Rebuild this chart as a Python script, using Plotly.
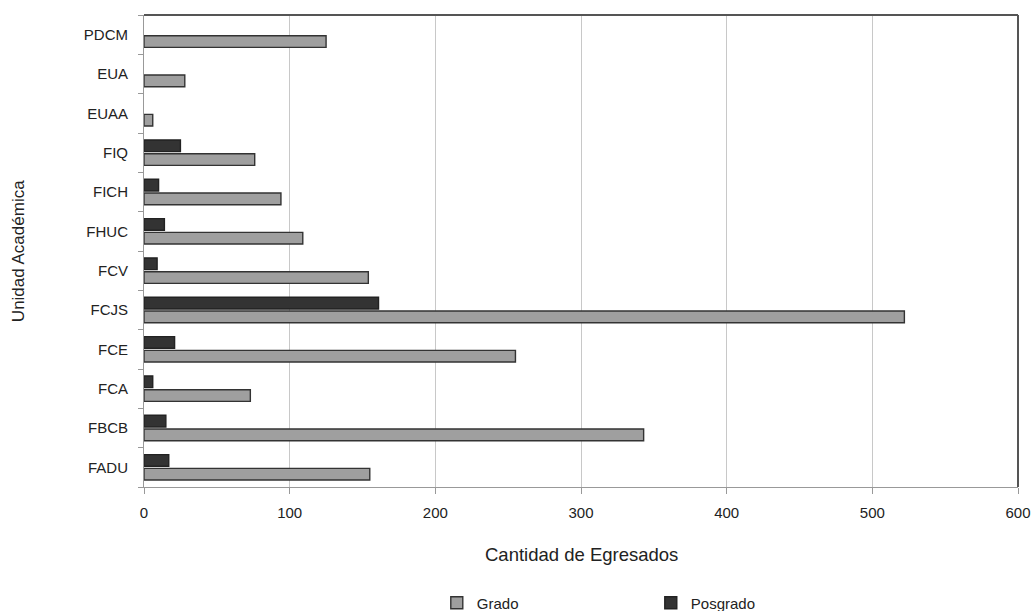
import plotly.graph_objects as go

categories = ["FADU", "FBCB", "FCA", "FCE", "FCJS", "FCV", "FHUC", "FICH", "FIQ", "EUAA", "EUA", "PDCM"]
grado = [155, 343, 73, 255, 522, 154, 109, 94, 76, 6, 28, 125]
posgrado = [17, 15, 6, 21, 161, 9, 14, 10, 25, None, None, None]
x_ticks = [0, 100, 200, 300, 400, 500, 600]

FONT = "Liberation Sans, Arial, sans-serif"

fig = go.Figure()
fig.add_trace(go.Bar(
    name="Grado", y=categories, x=grado, orientation="h",
    marker=dict(color="#9f9f9f", line=dict(color="#333333", width=1.4)),
))
fig.add_trace(go.Bar(
    name="Posgrado", y=categories, x=posgrado, orientation="h",
    marker=dict(color="#333333", line=dict(color="#222222", width=1.4)),
))

fig.update_layout(
    width=1036, height=611,
    margin=dict(l=144, r=18, t=15, b=124, autoexpand=False),
    paper_bgcolor="white", plot_bgcolor="white",
    barmode="group", bargap=0.3, bargroupgap=0.15,
    font=dict(family=FONT, size=15, color="#222222"),
    showlegend=True,
    legend=dict(orientation="h", x=0.335, xanchor="left", y=-0.2458, yanchor="middle",
                traceorder="normal", entrywidth=169, entrywidthmode="pixels",
                font=dict(size=15, color="#222222"), itemwidth=30),
    shapes=[
        dict(type="line", xref="paper", yref="paper", x0=0, x1=1, y0=1, y1=1,
             line=dict(color="#555555", width=2)),
        dict(type="line", xref="paper", yref="paper", x0=1, x1=1, y0=0, y1=1,
             line=dict(color="#555555", width=2)),
    ],
    annotations=[
        dict(text="Cantidad de Egresados", xref="paper", yref="paper", x=0.5, y=-0.144,
             xanchor="center", yanchor="middle", showarrow=False,
             font=dict(size=18.5, color="#222222")),
        dict(text="Unidad Académica", xref="paper", yref="paper", x=-0.144, y=0.5,
             xanchor="center", yanchor="middle", showarrow=False, textangle=-90,
             font=dict(size=17, color="#222222")),
    ],
)
fig.update_xaxes(
    range=[0, 600], tickvals=x_ticks, ticktext=[str(v) for v in x_ticks],
    showgrid=True, gridcolor="#c8c8c8", gridwidth=1,
    showline=True, linecolor="#999999", linewidth=1,
    ticks="outside", ticklen=6, tickcolor="#999999",
    ticklabelstandoff=6,
    zeroline=False,
    automargin=False,
)
fig.update_yaxes(
    categoryorder="array", categoryarray=categories,
    showgrid=False,
    showline=True, linecolor="#999999", linewidth=1,
    ticks="outside", ticklen=5, tickcolor="#999999", tickson="boundaries",
    ticklabelstandoff=12,
    automargin=False,
)

fig.write_html("out.html", config={"displayModeBar": False},
               post_script="document.body.style.margin='0px';")
